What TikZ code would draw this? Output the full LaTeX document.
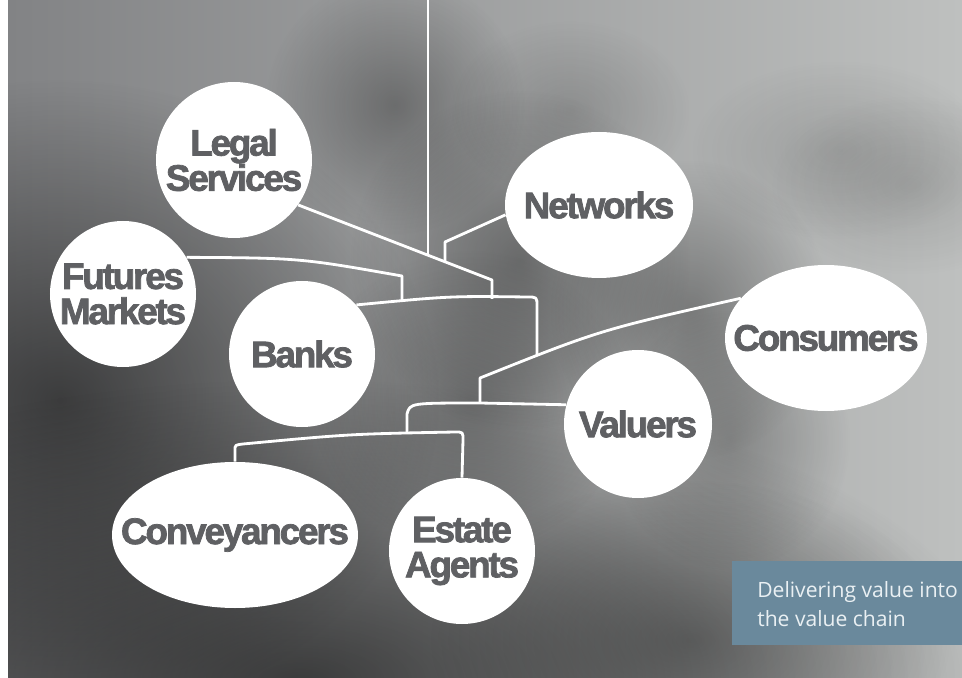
\documentclass[tikz,border=0pt]{standalone}
\usepackage{fontspec}
\newfontfamily\bubblefont{Liberation Sans Bold}[LetterSpace=-6,FakeBold=2]
\newfontfamily\captionfont{Open Sans}
\usetikzlibrary{
  fadings,
  shapes.geometric
}
\definecolor{photoDark}{HTML}{828385}
\definecolor{photoLight}{HTML}{BEC0BF}
\definecolor{bubbleText}{HTML}{5F6063}
\definecolor{captionBlue}{HTML}{6A899C}
\definecolor{captionText}{HTML}{EAF0F3}
\tikzfading[name=softblob, inner color=transparent!0, outer color=transparent!100]
\tikzset{
  bubble/.style={
    circle,
    fill=white,
    inner sep=-6mm,
    align=center,
    text=bubbleText,
    font=\bubblefont\fontsize{21}{20}\selectfont
  },
  oval/.style={bubble, ellipse, inner xsep=-10mm},
  wire/.style={draw=white, line width=1.6pt, line join=round},
  darkblob/.style={fill=black, path fading=softblob, opacity=#1},
  captiontext/.style={
    font=\captionfont\fontsize{12}{16.5}\selectfont,
    text=captionText,
    align=left,
    inner sep=0pt
  }
}

\begin{document}
\begin{tikzpicture}[x=0.2mm,y=-0.2mm]
  \useasboundingbox (0,0) rectangle (962,678);

  % blurred photo behind the chain
  \fill[white] (0,0) rectangle (962,678);
  \shade[left color=photoDark, right color=photoLight] (8,0) rectangle (962,678);
  \begin{scope}
    \clip (8,0) rectangle (962,678);
    \fill[darkblob=.55] (60,400) ellipse [x radius=380, y radius=320];
    \fill[darkblob=.6] (300,680) ellipse [x radius=700, y radius=300];
    \fill[darkblob=.3] (470,400) ellipse [x radius=160, y radius=150];
    \fill[darkblob=.3] (395,105) ellipse [x radius=130, y radius=130];
    \fill[darkblob=.15] (570,110) ellipse [x radius=120, y radius=90];
    \fill[darkblob=.12] (840,150) ellipse [x radius=150, y radius=90];
    \fill[darkblob=.12] (910,185) ellipse [x radius=140, y radius=90];
    \fill[darkblob=.35] (520,260) ellipse [x radius=170, y radius=170];
    \fill[darkblob=.3] (690,310) ellipse [x radius=140, y radius=150];
    \fill[darkblob=.25] (730,440) ellipse [x radius=120, y radius=130];
    \fill[darkblob=.3] (690,640) ellipse [x radius=260, y radius=160];
  \end{scope}

  % bubbles
  \node[bubble, minimum size=31.2mm] (legal) at (234,160) {Legal\\Services};
  \node[bubble, minimum size=29.2mm] (futures) at (123,294) {Futures\\Markets};
  \node[bubble, minimum size=29.2mm] (banks) at (302,354) {Banks};
  \node[oval, minimum width=37.6mm, minimum height=29.2mm] (networks)
    at (599,205) {Networks};
  \node[oval, minimum width=40.4mm, minimum height=29.2mm] (consumers)
    at (826,338) {Consumers};
  \node[bubble, minimum size=29.6mm] (valuers) at (638,424) {Valuers};
  \node[oval, minimum width=49.2mm, minimum height=29.2mm] (conveyancers)
    at (235,535) {Conveyancers};
  \node[bubble, minimum size=29.2mm] (estate) at (462,551) {Estate\\Agents};

  % joints of the chain
  \coordinate (top) at (428,0);
  \coordinate (hub) at (428,255);
  \coordinate (legalknee) at (492,280);
  \coordinate (legalfoot) at (492,299);
  \coordinate (netknee) at (445,242);
  \coordinate (netfoot) at (445,262);
  \coordinate (futknee) at (402,276);
  \coordinate (futfoot) at (402,301);
  \coordinate (bankknee) at (537,306);
  \coordinate (bankfoot) at (537,355);
  \coordinate (consknee) at (480,378);
  \coordinate (consfoot) at (480,403);
  \coordinate (valknee) at (407,414);
  \coordinate (valfoot) at (407,434);

  \draw[wire] (top) -- (hub);
  \draw[wire] (legal.-35) -- (legalknee) -- (legalfoot);
  \draw[wire] (networks.186) -- (netknee) -- (netfoot);
  \draw[wire] (futures.30) .. controls (300,258) .. (futknee) -- (futfoot);
  \draw[wire] (banks.42) .. controls (450,296) .. (527,297)
    .. controls (537,297) .. (bankknee) -- (bankfoot);
  \draw[wire] (consumers.155) .. controls (600,330) .. (consknee) -- (consfoot);
  \draw[wire] (valuers.165) -- (consfoot) .. controls (410,403) .. (valknee)
    -- (valfoot);
  \draw[wire] (conveyancers.north) -- (235,450) .. controls (235,445) .. (243,444)
    .. controls (350,434) .. (455,432) .. controls (463,432) .. (463,440)
    -- (estate.north);

  % caption panel
  \fill[captionBlue] (732,561) rectangle (962,645);
  \node[captiontext, anchor=west] (caption) at (757,604.5)
    {Delivering value into\\the value chain};
\end{tikzpicture}
\end{document}
